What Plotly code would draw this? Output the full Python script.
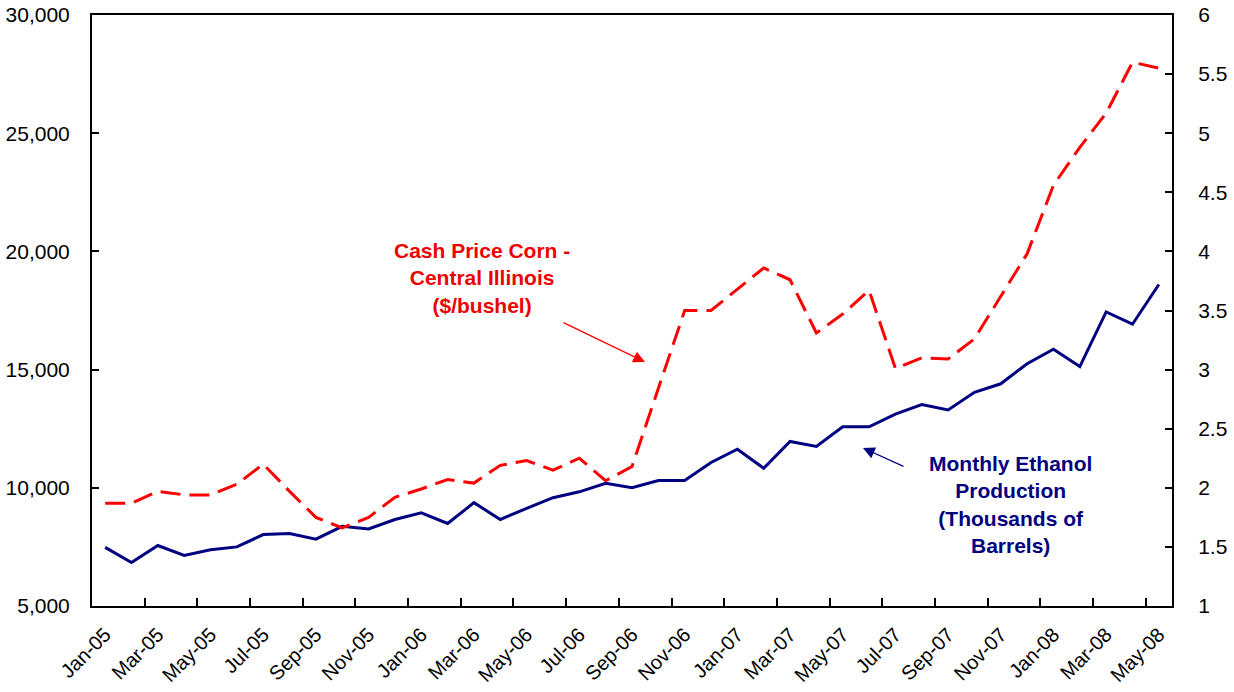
import plotly.graph_objects as go

months = ["Jan-05", "Feb-05", "Mar-05", "Apr-05", "May-05", "Jun-05", "Jul-05", "Aug-05", "Sep-05", "Oct-05", "Nov-05", "Dec-05",
          "Jan-06", "Feb-06", "Mar-06", "Apr-06", "May-06", "Jun-06", "Jul-06", "Aug-06", "Sep-06", "Oct-06", "Nov-06", "Dec-06",
          "Jan-07", "Feb-07", "Mar-07", "Apr-07", "May-07", "Jun-07", "Jul-07", "Aug-07", "Sep-07", "Oct-07", "Nov-07", "Dec-07",
          "Jan-08", "Feb-08", "Mar-08", "Apr-08", "May-08"]

ethanol = [7480, 6840, 7560, 7140, 7380, 7500, 8020, 8070, 7830, 8370, 8260, 8660,
           8940, 8490, 9370, 8660, 9130, 9580, 9830, 10190, 10000, 10310, 10310, 11070,
           11630, 10830, 11960, 11750, 12580, 12580, 13120, 13520, 13290, 14040, 14400, 15250,
           15860, 15130, 17440, 16920, 18600]

corn = [1.87, 1.87, 1.97, 1.94, 1.94, 2.03, 2.20, 1.97, 1.75, 1.66, 1.75, 1.92,
        1.99, 2.07, 2.04, 2.19, 2.23, 2.15, 2.25, 2.06, 2.18, 2.85, 3.50, 3.50,
        3.68, 3.86, 3.76, 3.31, 3.47, 3.67, 3.01, 3.10, 3.09, 3.26, 3.62, 3.98,
        4.56, 4.88, 5.17, 5.60, 5.55]

left_ticks = [5000, 10000, 15000, 20000, 25000, 30000]
right_ticks = [1, 1.5, 2, 2.5, 3, 3.5, 4, 4.5, 5, 5.5, 6]

idx = list(range(len(months)))
label_idx = idx[::2]
label_text = months[::2]
boundaries = [i + 1.5 for i in range(0, len(months) - 1, 2)]

FONT = "Arial, Liberation Sans, sans-serif"

fig = go.Figure()
fig.add_trace(go.Scatter(x=idx, y=ethanol, mode="lines", name="Monthly Ethanol Production",
                         line=dict(color="#000080", width=3), yaxis="y"))
fig.add_trace(go.Scatter(x=idx, y=corn, mode="lines", name="Cash Price Corn",
                         line=dict(color="#FF0000", width=3, dash="20px,9px"), yaxis="y2"))

fig.update_layout(
    width=1234, height=692,
    margin=dict(l=92, r=62, t=15, b=86, pad=0),
    paper_bgcolor="white", plot_bgcolor="white",
    showlegend=False,
    font=dict(family=FONT, size=21, color="black"),
    xaxis=dict(
        range=[-0.5, len(months) - 0.5], automargin=False,
        tickmode="array", tickvals=label_idx, ticktext=label_text,
        tickangle=-45, ticks="", showgrid=False, zeroline=False,
        showline=True, linecolor="black", linewidth=2, mirror=True,
        tickfont=dict(size=20, family=FONT), ticklabelstandoff=7,
        minor=dict(tickmode="array", tickvals=boundaries, ticks="inside",
                   ticklen=8, tickcolor="black", tickwidth=1.5, showgrid=False),
    ),
    yaxis=dict(
        range=[5000, 30000], tickmode="array", tickvals=left_ticks, automargin=False,
        tickformat=",", ticks="inside", ticklen=7, tickwidth=1.5, tickcolor="black",
        showgrid=False, zeroline=False, showline=True, linecolor="black", linewidth=2,
        tickfont=dict(size=21, family=FONT), ticklabelstandoff=16,
        ticklabeloverflow="allow",
    ),
    yaxis2=dict(
        range=[1, 6], tickmode="array", tickvals=right_ticks, automargin=False,
        overlaying="y", side="right",
        ticks="inside", ticklen=7, tickwidth=1.5, tickcolor="black",
        showgrid=False, zeroline=False, showline=True, linecolor="black", linewidth=2,
        tickfont=dict(size=21, family=FONT), ticklabelstandoff=20,
        ticklabeloverflow="allow",
    ),
)

# Text labels
fig.add_annotation(xref="paper", yref="paper", x=0.3611, y=0.5543,
                   text="<b>Cash Price Corn -<br>Central Illinois<br>($/bushel)</b>",
                   showarrow=False, xanchor="center", yanchor="middle", align="center",
                   font=dict(family=FONT, size=21, color="#EE0000"))
fig.add_annotation(xref="paper", yref="paper", x=0.8509, y=0.1717,
                   text="<b>Monthly Ethanol<br>Production<br>(Thousands of<br>Barrels)</b>",
                   showarrow=False, xanchor="center", yanchor="middle", align="center",
                   font=dict(family=FONT, size=21, color="#000080"))

# Arrows
fig.add_annotation(xref="paper", yref="paper", x=0.512, y=0.4129, ax=-83, ay=-40,
                   text="", showarrow=True, arrowhead=2, arrowsize=1.8, arrowwidth=1.3,
                   arrowcolor="#FF0000")
fig.add_annotation(xref="paper", yref="paper", x=0.7139, y=0.2673, ax=42, ay=19,
                   text="", showarrow=True, arrowhead=2, arrowsize=1.8, arrowwidth=1.3,
                   arrowcolor="#000080")

# remove the default 8px page margin so the figure sits at the window's corner
fig.write_html("out.html", config={"displayModeBar": False},
               post_script="document.body.style.margin='0';")
